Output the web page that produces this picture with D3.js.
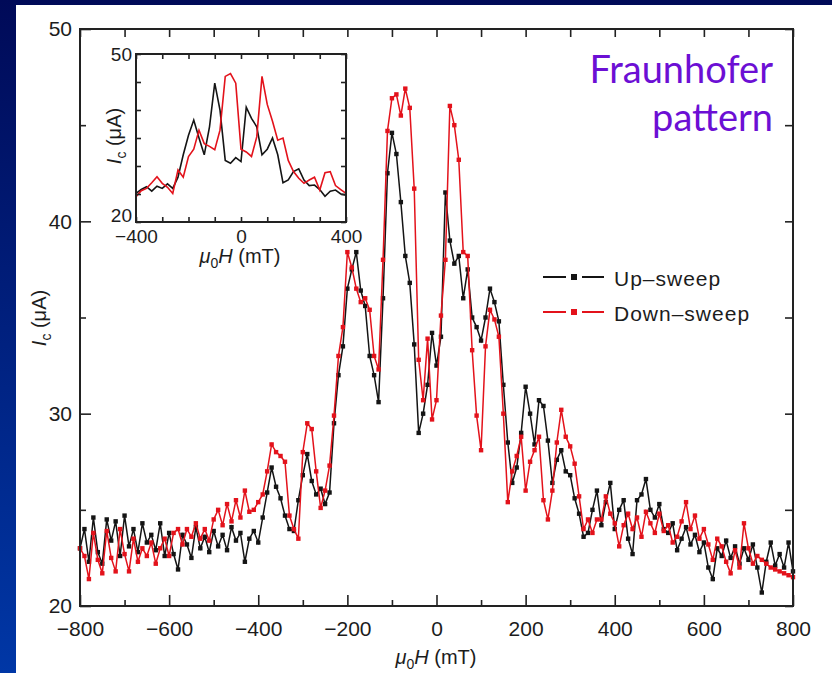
<!DOCTYPE html>
<html lang="en">
<head>
<meta charset="UTF-8">
<title>Fraunhofer pattern</title>
<style>
  body { margin: 0; background: #fff; }
  svg { display: block; }
  text { font-family: "Liberation Sans", Arial, sans-serif; fill: #1c1c1c; }
</style>
</head>
<body>
<svg id="chart" width="832" height="673"></svg>
<script src="https://d3js.org/d3.v7.min.js"></script>
<script>
// main panel: field grid (mT) and critical current (uA)
const fieldMT = [-800,-790,-780,-770,-760,-750,-740,-730,-720,-710,
  -700,-690,-680,-670,-660,-650,-640,-630,-620,-610,
  -600,-590,-580,-570,-560,-550,-540,-530,-520,-510,
  -500,-490,-480,-470,-460,-450,-440,-430,-420,-410,
  -400,-390,-380,-370,-360,-350,-340,-330,-320,-310,
  -300,-290,-280,-270,-260,-250,-240,-230,-220,-210,
  -200,-190,-180,-170,-160,-150,-140,-130,-120,-110,
  -100,-90,-80,-70,-60,-50,-40,-30,-20,-10,
  0,10,20,30,40,50,60,70,80,90,
  100,110,120,130,140,150,160,170,180,190,
  200,210,220,230,240,250,260,270,280,290,
  300,310,320,330,340,350,360,370,380,390,
  400,410,420,430,440,450,460,470,480,490,
  500,510,520,530,540,550,560,570,580,590,
  600,610,620,630,640,650,660,670,680,690,
  700,710,720,730,740,750,760,770,780,790,800]

const upSweep = [23.0,24.0,22.3,24.6,22.8,22.2,24.5,23.4,24.4,22.6,
  24.7,23.1,24.0,22.8,24.3,23.3,23.7,22.9,24.3,22.6,
  23.8,22.7,21.9,23.7,23.2,22.5,24.1,23.0,23.6,22.8,
  23.9,23.1,23.7,22.9,24.1,23.4,23.8,22.3,23.5,23.9,
  23.3,24.6,25.9,27.2,26.2,25.6,24.7,24.0,23.9,25.5,
  26.8,27.9,26.5,25.8,26.1,25.3,25.9,29.5,32.0,33.5,
  36.5,37.5,38.4,36.4,35.6,33.0,32.0,30.6,36.0,42.5,
  44.6,43.5,41.0,38.2,36.8,33.6,29.0,30.0,31.5,34.2,
  32.5,34.0,41.5,39.0,37.8,38.2,36.0,37.5,35.0,34.5,
  33.8,35.0,36.5,35.8,34.8,31.5,28.5,26.4,27.2,29.0,
  31.4,30.0,28.4,30.7,30.4,28.6,26.4,27.6,28.1,27.0,
  26.8,25.6,24.8,23.6,23.8,25.0,26.0,24.2,25.4,26.4,
  24.0,25.0,25.5,23.5,22.7,25.5,25.8,26.6,25.0,24.6,
  25.3,24.0,23.8,24.3,22.9,23.5,24.1,23.2,23.7,22.8,
  23.3,22.0,21.4,23.0,22.6,23.4,22.5,23.1,22.2,23.0,
  22.4,23.2,22.0,20.7,22.3,23.3,22.1,22.7,22.0,23.3,21.8]

const downSweep = [23.0,22.6,21.4,23.8,22.4,21.7,23.9,22.5,21.8,24.0,
  22.7,21.8,23.5,22.3,23.0,22.6,23.3,22.2,23.0,23.5,
  22.6,23.8,24.0,23.2,24.0,23.6,24.3,23.5,24.0,23.4,
  24.5,25.0,24.2,25.3,24.4,25.5,24.6,26.0,24.9,25.0,
  25.4,25.8,27.0,28.4,28.0,27.8,27.5,24.7,24.0,23.5,
  28.0,29.5,29.2,27.0,25.1,26.0,27.3,29.9,33.0,34.5,
  38.4,37.6,36.5,35.8,36.0,35.4,33.0,32.3,38.0,44.7,
  46.4,46.6,45.5,46.9,45.9,41.7,32.8,30.7,33.9,29.7,
  30.7,35.1,38.0,46.0,45.0,43.2,38.4,38.2,33.3,29.9,
  28.1,33.5,35.4,34.9,34.0,30.0,25.4,27.0,27.8,28.8,
  26.0,27.5,28.1,28.8,25.5,24.5,26.0,28.5,30.2,28.8,
  28.3,27.4,25.7,24.0,24.5,23.8,24.5,24.5,25.7,24.8,
  24.3,23.1,24.2,24.8,24.0,24.6,23.6,24.9,24.3,23.8,
  24.8,23.9,24.2,23.3,23.6,24.4,25.4,24.0,24.7,23.5,
  24.0,23.2,22.4,23.5,23.1,22.3,21.7,22.9,22.0,24.3,
  23.0,22.2,22.6,22.4,22.2,22.0,21.9,21.8,21.7,21.6,21.5]

// inset: second sample
const insetFieldMT = [-400,-380,-360,-340,-320,-300,-280,-260,-240,-220,
  -200,-180,-160,-140,-120,-100,-80,-60,-40,-20,
  0,20,40,60,80,100,120,140,160,180,
  200,220,240,260,280,300,320,340,360,380,400]
const insetUp = [25.1,25.8,26.3,25.5,26.4,26.0,26.8,26.0,28.0,32.0,
  35.5,38.2,35.0,32.0,37.0,44.8,40.0,31.0,30.5,31.5,
  30.8,40.5,38.5,37.0,32.0,33.0,35.0,32.0,27.0,27.5,
  29.0,29.5,27.5,26.5,26.6,25.8,24.6,25.5,25.7,25.0,24.8]
const insetDown = [24.5,25.6,26.0,27.0,28.1,26.9,26.2,25.1,29.3,28.0,
  31.7,33.0,36.4,34.0,33.5,32.9,36.4,46.0,46.5,44.8,
  33.0,32.5,31.7,35.2,46.0,41.0,38.0,34.6,35.0,31.0,
  29.0,27.8,26.9,27.5,28.0,25.7,28.8,29.0,26.5,25.8,25.1]

const seriesNames = ['Up\u2013sweep', 'Down\u2013sweep']
const seriesColors = ['#141414', '#e3121b']
const xMajor = [-800, -600, -400, -200, 0, 200, 400, 600, 800]
const xMinor = [-700, -500, -300, -100, 100, 300, 500, 700]
const yMajor = [20, 30, 40, 50]
const yMinor = [25, 35, 45]
const insetXLabels = [-400, 0, 400]
const insetXTicks = [-300, -200, -100, 100, 200, 300]
const insetYLabels = [20, 50]
const insetYTicks = [25, 30, 35, 40, 45]

const FONT = '"Liberation Sans", Arial, sans-serif'
const svg = d3.select('#chart')

// slide background
const defs = svg.append('defs')
const grad = defs.append('linearGradient').attr('id', 'bg')
  .attr('x1', 0).attr('y1', 0).attr('x2', 0).attr('y2', 1)
grad.append('stop').attr('offset', '0%').attr('stop-color', '#000a58')
grad.append('stop').attr('offset', '100%').attr('stop-color', '#0037a6')
svg.append('rect').attr('width', 832).attr('height', 673).attr('fill', 'url(#bg)')
svg.append('rect').attr('x', 16).attr('y', 5).attr('width', 816).attr('height', 668).attr('fill', '#fff')

// ---- main panel ----
const main = { left: 80, right: 793, top: 29, bottom: 606 }
const x = d3.scaleLinear().domain([-800, 800]).range([main.left, main.right])
const y = d3.scaleLinear().domain([20, 50]).range([main.bottom, main.top])

// frame with inward ticks on all four sides, labels bottom + left
function drawAxes(g, xs, ys, opt) {
  const bx = g.append('g').attr('class', 'xlab').attr('transform', `translate(0,${ys.range()[0]})`)
    .call(d3.axisBottom(xs).tickValues(opt.xLab).tickSize(-opt.major).tickSizeOuter(0).tickPadding(opt.pad))
  g.append('g').attr('transform', `translate(0,${ys.range()[0]})`)
    .call(d3.axisBottom(xs).tickValues(opt.xMin).tickSize(-opt.minor).tickSizeOuter(0).tickFormat(''))
  g.append('g').attr('transform', `translate(0,${ys.range()[1]})`)
    .call(d3.axisTop(xs).tickValues(opt.xLab.concat(opt.xMin)).tickSize(-opt.minor2).tickSizeOuter(0).tickFormat(''))
  g.append('g').attr('class', 'ylab').attr('transform', `translate(${xs.range()[0]},0)`)
    .call(d3.axisLeft(ys).tickValues(opt.yLab).tickSize(-opt.major).tickSizeOuter(0).tickPadding(opt.pad))
  g.append('g').attr('transform', `translate(${xs.range()[0]},0)`)
    .call(d3.axisLeft(ys).tickValues(opt.yMin).tickSize(-opt.minor).tickSizeOuter(0).tickFormat(''))
  g.append('g').attr('transform', `translate(${xs.range()[1]},0)`)
    .call(d3.axisRight(ys).tickValues(opt.yLab.concat(opt.yMin)).tickSize(-opt.minor2).tickSizeOuter(0).tickFormat(''))
  g.selectAll('.domain').remove()
  g.selectAll('g').attr('font-family', FONT)
  g.selectAll('.tick line').attr('stroke', '#222').attr('stroke-width', 1.6)
  g.selectAll('.tick text').attr('fill', '#1c1c1c').style('font-size', opt.font + 'px')
  bx.selectAll('.tick text').attr('dy', opt.xdy)
  g.append('rect')
    .attr('x', xs.range()[0]).attr('y', ys.range()[1])
    .attr('width', xs.range()[1] - xs.range()[0]).attr('height', ys.range()[0] - ys.range()[1])
    .attr('fill', 'none').attr('stroke', '#222').attr('stroke-width', 2)
}

const gMain = svg.append('g')

const mainSeries = [upSweep, downSweep]
const line = d3.line().x((d, i) => x(fieldMT[i])).y(d => y(d))
mainSeries.forEach((vals, k) => {
  const s = gMain.append('g')
  s.append('path').datum(vals).attr('d', line)
    .attr('fill', 'none').attr('stroke', seriesColors[k]).attr('stroke-width', 1.5)
  s.selectAll('rect').data(vals).enter().append('rect')
    .attr('x', (d, i) => x(fieldMT[i]) - 2.2).attr('y', d => y(d) - 2.2)
    .attr('width', 4.4).attr('height', 4.4).attr('fill', seriesColors[k])
})

drawAxes(gMain, x, y, { xLab: xMajor, xMin: xMinor, yLab: yMajor, yMin: yMinor,
  major: 11, minor: 6, minor2: 8, pad: 8, font: 21, xdy: '1.05em' })

// axis titles
function fieldTitle(px, py) {
  const t = svg.append('text').attr('x', px).attr('y', py).attr('text-anchor', 'middle').style('font-size', '20px')
  t.append('tspan').style('font-style', 'italic').text('\u03bc')
  t.append('tspan').attr('dy', 5).style('font-size', '14px').text('0')
  t.append('tspan').attr('dy', -5).style('font-style', 'italic').text('H')
  t.append('tspan').text(' (mT)')
}
function currentTitle(px, py) {
  const t = svg.append('text').attr('transform', `translate(${px},${py}) rotate(-90)`)
    .attr('text-anchor', 'middle').style('font-size', '20px')
  t.append('tspan').style('font-style', 'italic').text('I')
  t.append('tspan').attr('dy', 5).style('font-size', '14px').text('c')
  t.append('tspan').attr('dy', -5).text(' (\u03bcA)')
}
fieldTitle(436, 664)
currentTitle(46, 318)

// legend
const leg = svg.append('g').selectAll('g').data(seriesNames).enter().append('g')
  .attr('transform', (d, i) => `translate(0,${277 + i * 35})`)
leg.append('line').attr('x1', 543).attr('x2', 566).attr('stroke', (d, i) => seriesColors[i]).attr('stroke-width', 2)
leg.append('line').attr('x1', 582).attr('x2', 604).attr('stroke', (d, i) => seriesColors[i]).attr('stroke-width', 2)
leg.append('rect').attr('x', 571).attr('y', -3).attr('width', 6).attr('height', 6).attr('fill', (d, i) => seriesColors[i])
leg.append('text').attr('x', 614).attr('y', 9).style('font-size', '21px').style('letter-spacing', '1px').text(d => d)

// ---- inset ----
const ins = { left: 136, right: 346, top: 54, bottom: 222 }
const xi = d3.scaleLinear().domain([-400, 400]).range([ins.left, ins.right])
const yi = d3.scaleLinear().domain([20, 50]).range([ins.bottom, ins.top])
const gIns = svg.append('g')
gIns.append('rect').attr('x', ins.left).attr('y', ins.top).attr('width', ins.right - ins.left)
  .attr('height', ins.bottom - ins.top).attr('fill', '#fff')
const lineIns = d3.line().x((d, i) => xi(insetFieldMT[i])).y(d => yi(d))
;[insetUp, insetDown].forEach((vals, k) => {
  gIns.append('path').datum(vals).attr('d', lineIns)
    .attr('fill', 'none').attr('stroke', seriesColors[k]).attr('stroke-width', 1.6)
})
drawAxes(gIns, xi, yi, { xLab: insetXLabels, xMin: insetXTicks, yLab: insetYLabels, yMin: insetYTicks,
  major: 5, minor: 5, minor2: 5, pad: 4, font: 19, xdy: '0.9em' })
// lift the lowest inset label a little, as in the original
gIns.selectAll('.ylab .tick text').filter(d => d === 20).attr('dy', '-0.05em')

fieldTitle(240, 263)
currentTitle(121, 136)

// annotation
const note = svg.append('text').attr('text-anchor', 'end')
  .style('font-family', 'Lato, "Open Sans", sans-serif').style('font-size', '38px').style('fill', '#6c0fd4')
note.append('tspan').attr('x', 773).attr('y', 83).text('Fraunhofer')
note.append('tspan').attr('x', 773).attr('y', 131).text('pattern')
</script>
</body>
</html>
